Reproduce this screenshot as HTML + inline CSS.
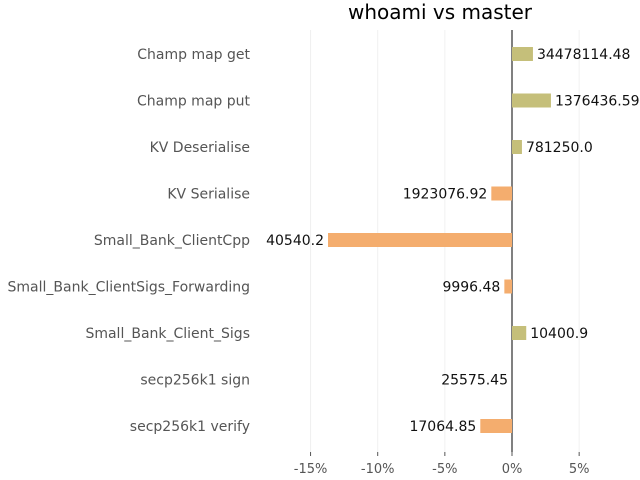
<!DOCTYPE html>
<html><head><meta charset="utf-8"><style>
body{margin:0;background:#fff;}
svg{display:block;font-family:"DejaVu Sans","Liberation Sans",sans-serif;}
</style></head><body>
<svg id="chart" width="640" height="480" viewBox="0 0 640 480">
<text x="440" y="19" font-size="20" text-anchor="middle" fill="#000">whoami vs master</text>
<g id="grid"></g><g id="bars"></g><g id="labels"></g><g id="ticks"></g>
</svg>
<script>
const categories=["Champ map get","Champ map put","KV Deserialise","KV Serialise","Small_Bank_ClientCpp","Small_Bank_ClientSigs_Forwarding","Small_Bank_Client_Sigs","secp256k1 sign","secp256k1 verify"];
const changes=[1.56,2.9,0.74,-1.54,-13.7,-0.57,1.06,0,-2.36];
const valueLabels=["34478114.48","1376436.59","781250.0","1923076.92","40540.2","9996.48","10400.9","25575.45","17064.85"];
const tickValues=[-15,-10,-5,0,5];
const tickLabels=["-15%","-10%","-5%","0%","5%"];
const NS="http://www.w3.org/2000/svg";
const x=v=>512+v*13.43;
const y=i=>54+i*46.5;
function mk(t,a,p){const e=document.createElementNS(NS,t);for(const k in a)e.setAttribute(k,a[k]);document.getElementById(p).appendChild(e);return e;}
tickValues.forEach((v,i)=>{
 const g=mk('line',{x1:x(v),x2:x(v),y1:30,y2:452,stroke:v===0?'#808080':'#f0f0f0','stroke-width':v===0?2:1},'grid');
 
 
 const tk=mk('line',{x1:x(v),x2:x(v),y1:452,y2:456,stroke:'#555'},'ticks');
 
 
 const t=mk('text',{x:x(v),y:473,'font-size':13,fill:'#555','text-anchor':'middle'},'ticks');
 t.textContent=tickLabels[i];
 
 
});
categories.forEach((c,i)=>{
 const v=changes[i],cy=y(i);
 const l=mk('text',{x:250,y:cy+5,'font-size':14,fill:'#555','text-anchor':'end'},'labels');
 l.textContent=c;
 
 
 const x0=Math.min(x(0),x(v)),w=Math.abs(x(v)-x(0));
 const b=mk('rect',{x:x0,y:cy-7,width:w,height:14,fill:v>=0?'#c5bf7a':'#f4ad6e'},'bars');
 
 
 const vl=mk('text',{x:v>0?x(v)+4:x(v)-4,y:cy+5,'font-size':14,fill:'#111','text-anchor':v>0?'start':'end'},'labels');
 vl.textContent=valueLabels[i];
 
 
});
</script>
</body></html>
